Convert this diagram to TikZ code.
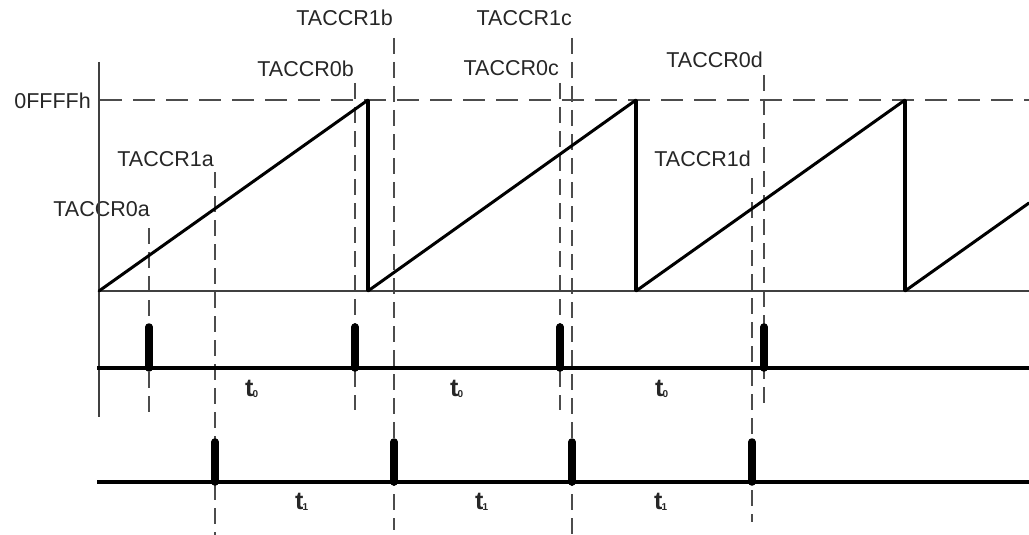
\documentclass[tikz,border=0pt]{standalone}
\usepackage{fontspec}
\setmainfont{Liberation Sans}
\begin{document}
\begin{tikzpicture}[x=1pt,y=-1pt,
  lbl/.style={inner sep=0pt,anchor=base east,text=black!85,font=\fontsize{21.5}{21.5}\selectfont},
  tlbl/.style={inner sep=0pt,anchor=base west,text=black!85},
  vdash/.style={draw=black!70,line width=1.1pt,dash pattern=on 16pt off 8pt},
  hdash/.style={draw=black!70,line width=1.1pt,dash pattern=on 22pt off 11pt},
  thinline/.style={draw=black!75,line width=1.2pt},
  ramp/.style={draw=black,line width=3pt,line cap=round},
  drop/.style={draw=black,line width=4.5pt},
  track/.style={draw=black,line width=4.5pt},
  pulse/.style={draw=black,line width=7.5pt,line cap=round}]
\useasboundingbox (0,0) rectangle (1029,535);
% labels
\node[lbl] (l0a) at (150,216) {TACCR0a};
\node[lbl] (l1a) at (214,166) {TACCR1a};
\node[lbl] (l0b) at (354,77) {TACCR0b};
\node[lbl] (l1b) at (393,26) {TACCR1b};
\node[lbl] (l0c) at (559,76) {TACCR0c};
\node[lbl] (l1c) at (572,26) {TACCR1c};
\node[lbl] (l0d) at (763,67) {TACCR0d};
\node[lbl] (l1d) at (751,166) {TACCR1d};
\node[lbl] (lff) at (91,109) {0FFFFh};
% dashed line endpoints
\foreach \n/\x/\t/\b in {0a/149/228/417, 1a/215/172/535, 0b/355/83/410, 1b/394/38/530,
  0c/560/83/410, 1c/572/38/535, 1d/752/178/522, 0d/764/75/405}{
  \coordinate (d\n t) at (\x,\t);
  \coordinate (d\n b) at (\x,\b);
}
\foreach \n in {0a,1a,0b,1b,0c,1c,1d,0d}{\draw[vdash] (d\n t) -- (d\n b);}
% horizontal dashed max line
\coordinate (hL) at (100,100);
\coordinate (hR) at (1029,100);
\draw[hdash] (hL) -- (hR);
% axes
\coordinate (axT) at (99,62);
\coordinate (axB) at (99,417);
\coordinate (bR) at (1029,291);
\coordinate (o) at (99,291);
\draw[thinline] (axT) -- (axB);
\draw[thinline] (o) -- (bR);
% sawtooth
\coordinate (p1) at (368,100); \coordinate (q1) at (368,291);
\coordinate (p2) at (636,100); \coordinate (q2) at (636,291);
\coordinate (p3) at (905,100); \coordinate (q3) at (905,291);
\coordinate (p4) at (1029,203);
\draw[ramp] (o) -- (p1);
\draw[ramp] (q1) -- (p2);
\draw[ramp] (q2) -- (p3);
\draw[ramp] (q3) -- (p4);
\draw[drop] (p1) -- (q1);
\draw[drop] (p2) -- (q2);
\draw[drop] (p3) -- (q3);
% pulse tracks
\coordinate (r0L) at (97,368); \coordinate (r0R) at (1029,368);
\coordinate (r1L) at (97,482); \coordinate (r1R) at (1029,482);
\draw[track] (r0L) -- (r0R);
\draw[track] (r1L) -- (r1R);
\foreach \x [count=\i] in {149,355,560,764}{
  \coordinate (a\i) at (\x,368); \coordinate (at\i) at (\x,327);
  \draw[pulse] (a\i) -- (at\i);
}
\foreach \x [count=\i] in {215,394,572,752}{
  \coordinate (b\i) at (\x,482); \coordinate (bt\i) at (\x,442);
  \draw[pulse] (b\i) -- (bt\i);
}
% t labels
\foreach \x [count=\i] in {245,450,655}{
  \node[tlbl] (tz\i) at (\x,396) {\fontsize{25}{25}\selectfont\bfseries t\kern-1pt\raisebox{-1pt}{\fontsize{10}{10}\selectfont 0}};
}
\foreach \x [count=\i] in {295,475,654}{
  \node[tlbl] (to\i) at (\x,509) {\fontsize{25}{25}\selectfont\bfseries t\kern-1pt\raisebox{-1pt}{\fontsize{10}{10}\selectfont 1}};
}
\end{tikzpicture}
\end{document}
